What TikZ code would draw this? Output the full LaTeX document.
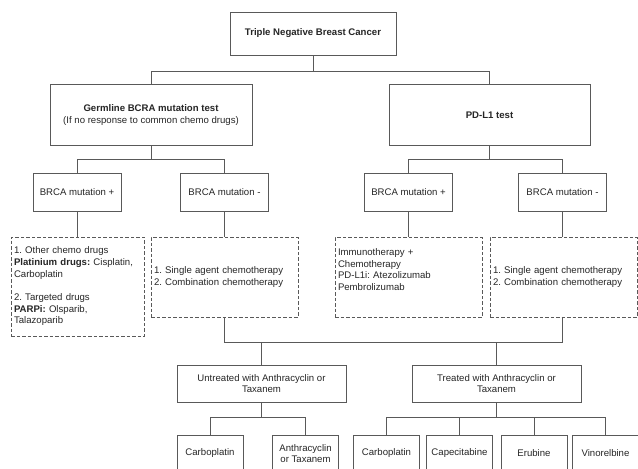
\documentclass[tikz,border=0pt]{standalone}
\usepackage{fontspec}
\setmainfont{Liberation Sans}
\usetikzlibrary{calc}
\frenchspacing
\begin{document}
\begin{tikzpicture}[x=1pt,y=-1pt,box/.style={draw=black!65, line width=0.8pt, fill=white, text=black!85, align=center, inner sep=2pt, font=\fontsize{9.6}{11.6}\selectfont},leaf/.style={box, minimum width=66pt, minimum height=37pt},dbox/.style={box, dash pattern=on 3.5pt off 2pt, align=left, inner xsep=3pt},link/.style={draw=black!65, line width=0.8pt}]
\clip (0,0) rectangle (638,469);
\node[box, minimum width=166pt, minimum height=43pt, font=\fontsize{9.6}{11.6}\selectfont\bfseries] (tnbc) at (313,33.5) {Triple Negative Breast Cancer};
\node[box, minimum width=202pt, minimum height=61pt] (germ) at (151,115) {\textbf{Germline BCRA mutation test}\\(If no response to common chemo drugs)};
\node[box, minimum width=201pt, minimum height=61pt] (pdl) at (489.5,115) {\textbf{PD-L1 test}};
\node[box, minimum width=88pt, minimum height=38pt] (gpos) at (77,192) {BRCA mutation +};
\node[box, minimum width=88pt, minimum height=38pt] (gneg) at (224.5,192) {BRCA mutation -};
\node[box, minimum width=88pt, minimum height=38pt] (ppos) at (408.5,192) {BRCA mutation +};
\node[box, minimum width=88pt, minimum height=38pt] (pneg) at (562.5,192) {BRCA mutation -};
\node[dbox, minimum width=133pt, text width=127pt, minimum height=99pt] (gposrx) at (77.5,286.5) {1. Other chemo drugs\\\textbf{Platinium drugs:} Cisplatin,\\Carboplatin\\[12pt]2. Targeted drugs\\\textbf{PARPi:} Olsparib,\\Talazoparib};
\node[dbox, minimum width=147pt, text width=141pt, minimum height=80pt] (gnegrx) at (224.5,277) {1. Single agent chemotherapy\\2. Combination chemotherapy};
\node[dbox, minimum width=147pt, text width=141pt, minimum height=80pt] (pposrx) at (408.5,277) {Immunotherapy +\\Chemotherapy\\PD-L1i: Atezolizumab\\Pembrolizumab\\\strut};
\node[dbox, minimum width=147pt, text width=141pt, minimum height=80pt] (pnegrx) at (563.5,277) {1. Single agent chemotherapy\\2. Combination chemotherapy};
\node[box, minimum width=169pt, minimum height=37pt] (untr) at (261.5,383.5) {Untreated with Anthracyclin or\\Taxanem};
\node[box, minimum width=169pt, minimum height=37pt] (trtd) at (496.5,383.5) {Treated with Anthracyclin or\\Taxanem};
\node[leaf] (ucarbo) at (210,453.5) {Carboplatin};
\node[leaf] (uanth) at (305.5,453.5) {Anthracyclin\\or Taxanem};
\node[leaf] (tcarbo) at (386.5,453.5) {Carboplatin};
\node[leaf] (tcape) at (459.5,453.5) {Capecitabine};
\node[leaf] (terub) at (534,453.5) {Erubine};
\node[leaf] (tvino) at (605.5,453.5) {Vinorelbine};
\draw[link] (tnbc.south) -- ++(0,16) coordinate (j0); \draw[link] (germ.north) |- (j0) -| (pdl.north);
\draw[link] (germ.south) -- ++(0,13) coordinate (j1); \draw[link] (gpos.north) |- (j1) -| (gneg.north);
\draw[link] (pdl.south) -- ++(0,13) coordinate (j2); \draw[link] (ppos.north) |- (j2) -| (pneg.north);
\draw[link] (gpos.south) -- (gpos.south |- gposrx.north); \draw[link] (gneg.south) -- (gneg.south |- gnegrx.north);
\draw[link] (ppos.south) -- (ppos.south |- pposrx.north); \draw[link] (pneg.south) -- (pneg.south |- pnegrx.north);
\draw[link] (gnegrx.south) -- ++(0,25) coordinate (j3) -| (pneg.south |- pnegrx.south);
\draw[link] (untr.north) -- (untr.north |- j3); \draw[link] (trtd.north) -- (trtd.north |- j3);
\draw[link] (untr.south) -- ++(0,15) coordinate (j4); \draw[link] (ucarbo.north) |- (j4) -| (uanth.north);
\draw[link] (trtd.south) -- ++(0,15) coordinate (j5); \draw[link] (tcarbo.north) |- (j5) -| (tvino.north);
\draw[link] (tcape.north) -- (tcape.north |- j5); \draw[link] (terub.north) -- (terub.north |- j5);
\end{tikzpicture}
\end{document}
